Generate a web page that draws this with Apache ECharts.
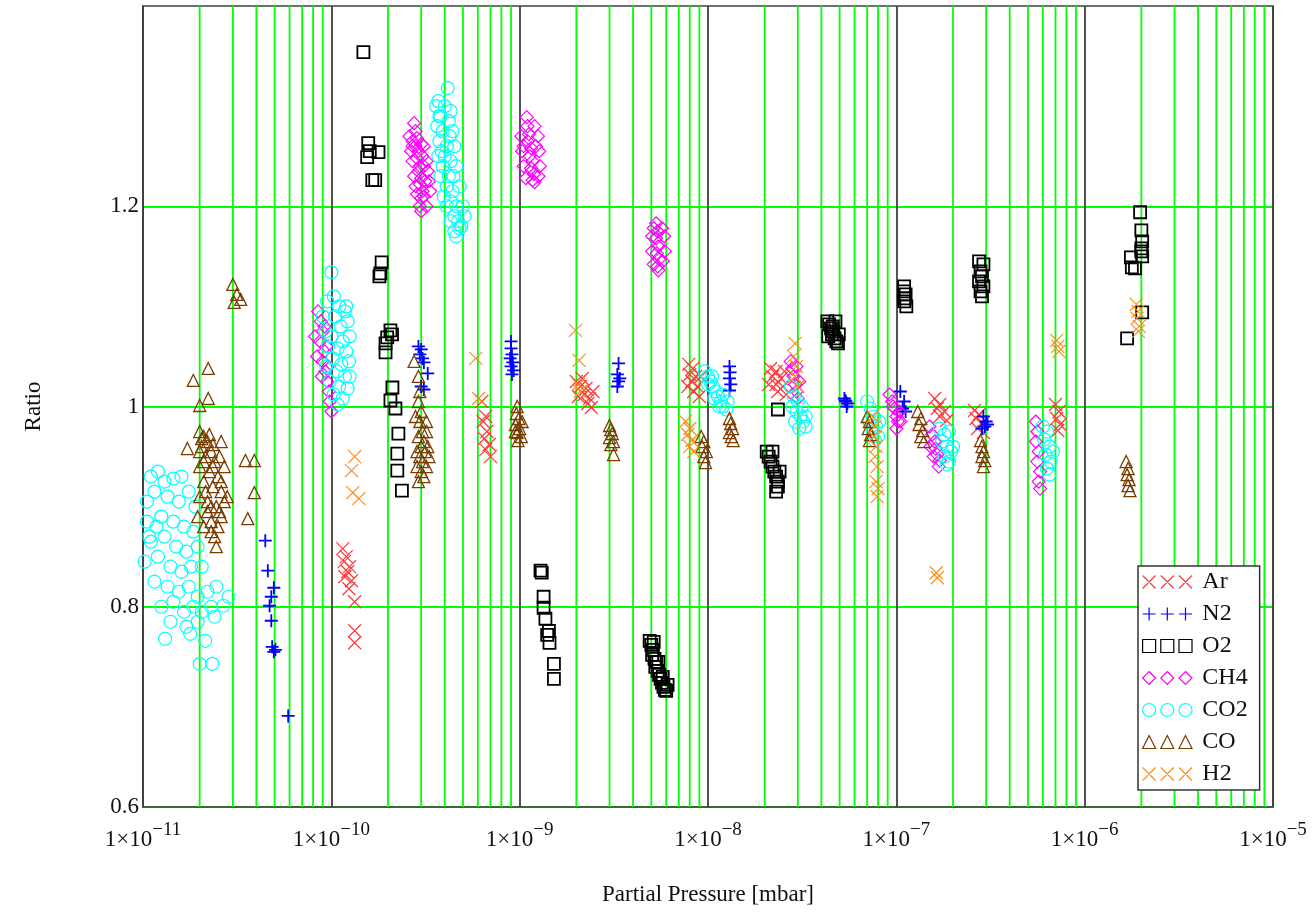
<!DOCTYPE html>
<html>
<head>
<meta charset="utf-8">
<script src="https://cdn.jsdelivr.net/npm/echarts@6/dist/echarts.min.js"></script>
<style>
  html, body { margin: 0; padding: 0; background: #fff; }
  #chart { width: 1316px; height: 914px; }
</style>
</head>
<body>
<div id="chart"></div>
<script>
// === Données : [pression partielle (mbar), ratio] ===
const ar = [
  [1.15e-10, 0.858], [1.2e-10, 0.85], [1.17e-10, 0.845], [1.25e-10, 0.84], [1.22e-10, 0.835], [1.18e-10, 0.83],
  [1.28e-10, 0.826], [1.24e-10, 0.818], [1.33e-10, 0.805], [1.33e-10, 0.776], [1.33e-10, 0.764],
  [6.3e-10, 1.005], [6.6e-10, 0.99], [6.4e-10, 0.985], [6.7e-10, 0.975], [6.5e-10, 0.968], [6.9e-10, 0.962],
  [6.6e-10, 0.957], [7.0e-10, 0.95],
  [2.0e-9, 1.025], [2.15e-9, 1.028], [2.1e-9, 1.02], [2.25e-9, 1.018], [2.2e-9, 1.012], [2.35e-9, 1.008],
  [2.3e-9, 1.003], [2.4e-9, 0.999], [2.45e-9, 1.015], [2.05e-9, 1.01],
  [7.9e-9, 1.042], [8.3e-9, 1.038], [8.0e-9, 1.032], [8.6e-9, 1.03], [8.2e-9, 1.025], [8.8e-9, 1.02],
  [8.4e-9, 1.015], [9.0e-9, 1.01], [9.2e-9, 1.03], [7.8e-9, 1.02],
  [2.15e-8, 1.038], [2.3e-8, 1.035], [2.2e-8, 1.03], [2.45e-8, 1.028], [2.3e-8, 1.022], [2.5e-8, 1.02],
  [2.35e-8, 1.015], [2.6e-8, 1.012], [2.1e-8, 1.022], [2.55e-8, 1.035],
  [1.6e-7, 1.008], [1.7e-7, 1.002], [1.65e-7, 0.998], [1.8e-7, 0.995], [1.7e-7, 0.99], [1.85e-7, 0.986],
  [2.6e-7, 0.996], [2.75e-7, 0.992], [2.65e-7, 0.988], [2.85e-7, 0.984], [2.7e-7, 0.978], [2.9e-7, 0.974],
  [7.0e-7, 1.002], [7.3e-7, 0.995], [7.1e-7, 0.988], [7.4e-7, 0.982], [7.2e-7, 0.976]
];

const n2 = [
  [4.46e-11, 0.866], [4.6e-11, 0.836], [4.95e-11, 0.819], [4.8e-11, 0.81], [4.7e-11, 0.801], [4.8e-11, 0.786],
  [4.85e-11, 0.76], [4.95e-11, 0.755], [5.05e-11, 0.757], [5.9e-11, 0.691],
  [2.9e-10, 1.06], [3.0e-10, 1.057], [2.95e-10, 1.052], [3.05e-10, 1.048], [3.1e-10, 1.044], [3.25e-10, 1.033],
  [3.0e-10, 1.02], [3.1e-10, 1.017],
  [9.0e-10, 1.065], [9.0e-10, 1.058], [9.1e-10, 1.052], [8.9e-10, 1.048], [9.2e-10, 1.044], [9.0e-10, 1.04],
  [9.3e-10, 1.036], [9.1e-10, 1.032],
  [3.35e-9, 1.043], [3.3e-9, 1.032], [3.4e-9, 1.028], [3.35e-9, 1.025], [3.3e-9, 1.02],
  [1.3e-8, 1.04], [1.31e-8, 1.034], [1.3e-8, 1.028], [1.32e-8, 1.022], [1.3e-8, 1.016],
  [5.3e-8, 1.008], [5.4e-8, 1.005], [5.5e-8, 1.003], [5.45e-8, 1.0], [5.35e-8, 1.006],
  [1.05e-7, 1.015], [1.1e-7, 1.005], [1.08e-7, 0.998], [1.12e-7, 0.995],
  [2.9e-7, 0.99], [3.0e-7, 0.985], [2.95e-7, 0.98], [3.05e-7, 0.982], [2.85e-7, 0.978]
];

const o2 = [
  [1.48e-10, 1.354], [1.57e-10, 1.263], [1.55e-10, 1.249], [1.6e-10, 1.255], [1.78e-10, 1.254], [1.65e-10, 1.226],
  [1.71e-10, 1.226], [1.85e-10, 1.144], [1.82e-10, 1.133], [1.8e-10, 1.13],
  [2.06e-10, 1.076], [2.1e-10, 1.072], [1.98e-10, 1.069], [1.94e-10, 1.063], [1.94e-10, 1.054], [2.11e-10, 1.019],
  [2.06e-10, 1.006], [2.19e-10, 0.998], [2.27e-10, 0.973], [2.24e-10, 0.953], [2.24e-10, 0.936], [2.37e-10, 0.916],
  [1.29e-9, 0.836], [1.31e-9, 0.834], [1.34e-9, 0.81], [1.34e-9, 0.799], [1.37e-9, 0.788], [1.43e-9, 0.776],
  [1.44e-9, 0.764], [1.4e-9, 0.772], [1.52e-9, 0.743], [1.52e-9, 0.728],
  [4.9e-9, 0.766], [5.0e-9, 0.762], [5.1e-9, 0.757], [5.05e-9, 0.752], [5.2e-9, 0.748], [5.3e-9, 0.745],
  [5.25e-9, 0.74], [5.4e-9, 0.736], [5.5e-9, 0.732], [5.6e-9, 0.728], [5.7e-9, 0.724], [5.8e-9, 0.72],
  [5.9e-9, 0.717], [6.0e-9, 0.716], [5.15e-9, 0.765], [5.45e-9, 0.745], [5.75e-9, 0.73], [6.1e-9, 0.722],
  [2.05e-8, 0.955], [2.1e-8, 0.95], [2.15e-8, 0.945], [2.2e-8, 0.94], [2.25e-8, 0.935], [2.3e-8, 0.93],
  [2.35e-8, 0.925], [2.35e-8, 0.92], [2.3e-8, 0.915], [2.35e-8, 0.997], [2.2e-8, 0.955], [2.4e-8, 0.935],
  [4.3e-8, 1.085], [4.4e-8, 1.082], [4.5e-8, 1.078], [4.6e-8, 1.08], [4.55e-8, 1.072], [4.7e-8, 1.068],
  [4.8e-8, 1.065], [4.9e-8, 1.063], [4.6e-8, 1.075], [4.75e-8, 1.085], [4.95e-8, 1.072], [4.35e-8, 1.07],
  [1.1e-7, 1.12], [1.12e-7, 1.112], [1.1e-7, 1.105], [1.13e-7, 1.1], [1.1e-7, 1.115], [1.11e-7, 1.108],
  [2.75e-7, 1.145], [2.9e-7, 1.142], [2.8e-7, 1.135], [2.85e-7, 1.13], [2.75e-7, 1.125], [2.9e-7, 1.12],
  [2.8e-7, 1.115], [2.85e-7, 1.11],
  [1.97e-6, 1.194], [2.0e-6, 1.176], [2.02e-6, 1.165], [2.0e-6, 1.158], [2.02e-6, 1.15], [1.76e-6, 1.149],
  [1.78e-6, 1.139], [1.85e-6, 1.138], [2.0e-6, 1.155], [2.02e-6, 1.094], [1.68e-6, 1.068]
];

const ch4 = [
  [8.5e-11, 1.095], [8.8e-11, 1.085], [9.0e-11, 1.075], [8.7e-11, 1.065], [9.2e-11, 1.08], [9.2e-11, 1.055],
  [9.0e-11, 1.045], [9.4e-11, 1.06], [9.6e-11, 1.04], [9.3e-11, 1.035], [9.5e-11, 1.025], [9.7e-11, 1.015],
  [9.8e-11, 1.005], [1.0e-10, 0.995], [8.2e-11, 1.07], [8.4e-11, 1.05], [8.9e-11, 1.03],
  [2.75e-10, 1.283], [2.8e-10, 1.275], [2.85e-10, 1.268], [2.8e-10, 1.26], [2.9e-10, 1.255], [2.85e-10, 1.248],
  [2.95e-10, 1.24], [2.9e-10, 1.235], [3.0e-10, 1.228], [2.95e-10, 1.222], [3.05e-10, 1.215], [3.0e-10, 1.208],
  [2.95e-10, 1.2], [3.0e-10, 1.195], [3.05e-10, 1.25],
  [2.6e-10, 1.27], [2.7e-10, 1.265], [3.1e-10, 1.26], [2.65e-10, 1.255], [3.2e-10, 1.245], [2.7e-10, 1.245],
  [3.25e-10, 1.235], [2.75e-10, 1.23], [3.3e-10, 1.225], [2.8e-10, 1.22], [3.35e-10, 1.215], [3.1e-10, 1.21],
  [2.85e-10, 1.212], [3.2e-10, 1.2], [3.15e-10, 1.225], [3.1e-10, 1.24], [2.7e-10, 1.26], [3.0e-10, 1.262],
  [1.09e-9, 1.289], [1.1e-9, 1.28], [1.12e-9, 1.272], [1.1e-9, 1.265], [1.15e-9, 1.258], [1.13e-9, 1.25],
  [1.17e-9, 1.245], [1.15e-9, 1.238], [1.19e-9, 1.232], [1.17e-9, 1.226], [1.2e-9, 1.224],
  [1.02e-9, 1.27], [1.25e-9, 1.27], [1.03e-9, 1.255], [1.27e-9, 1.255], [1.05e-9, 1.24], [1.28e-9, 1.24],
  [1.08e-9, 1.228], [1.26e-9, 1.23], [1.22e-9, 1.26], [1.05e-9, 1.26], [1.2e-9, 1.28],
  [5.3e-9, 1.183], [5.4e-9, 1.175], [5.3e-9, 1.168], [5.45e-9, 1.16], [5.35e-9, 1.153], [5.5e-9, 1.147],
  [5.4e-9, 1.14], [5.45e-9, 1.136], [5.05e-9, 1.17], [5.85e-9, 1.17], [5.05e-9, 1.155], [5.9e-9, 1.155],
  [5.15e-9, 1.142], [5.75e-9, 1.145], [5.7e-9, 1.178], [5.15e-9, 1.178],
  [2.75e-8, 1.045], [2.8e-8, 1.038], [2.85e-8, 1.03], [2.9e-8, 1.022], [2.95e-8, 1.015], [3.0e-8, 1.008],
  [2.95e-8, 1.04], [3.05e-8, 1.025],
  [9.2e-8, 1.012], [9.5e-8, 1.005], [9.8e-8, 0.998], [1.0e-7, 0.99], [1.02e-7, 0.985], [1.0e-7, 0.978],
  [9.6e-8, 1.0], [1.04e-7, 0.995], [1.05e-7, 0.985],
  [1.5e-7, 0.98], [1.55e-7, 0.972], [1.6e-7, 0.965], [1.62e-7, 0.958], [1.65e-7, 0.952], [1.7e-7, 0.946],
  [1.68e-7, 0.94], [1.52e-7, 0.96], [1.58e-7, 0.95],
  [5.5e-7, 0.985], [5.6e-7, 0.975], [5.5e-7, 0.965], [5.7e-7, 0.955], [5.6e-7, 0.945], [5.8e-7, 0.935],
  [5.7e-7, 0.925], [5.8e-7, 0.918]
];

const co2 = [
  [1.05e-11, 0.905], [1.1e-11, 0.93], [1.2e-11, 0.935], [1.3e-11, 0.925], [1.45e-11, 0.928], [1.6e-11, 0.93],
  [1.15e-11, 0.915], [1.35e-11, 0.91], [1.55e-11, 0.905], [1.75e-11, 0.915], [1.9e-11, 0.9], [1.05e-11, 0.885],
  [1.25e-11, 0.89], [1.45e-11, 0.885], [1.65e-11, 0.88], [1.85e-11, 0.875], [1.1e-11, 0.865], [1.3e-11, 0.87],
  [1.5e-11, 0.86], [1.7e-11, 0.855], [1.95e-11, 0.86], [1.02e-11, 0.845], [1.2e-11, 0.85], [1.4e-11, 0.84],
  [1.6e-11, 0.835], [1.8e-11, 0.84], [2.05e-11, 0.84], [1.15e-11, 0.825], [1.35e-11, 0.82], [1.55e-11, 0.815],
  [1.75e-11, 0.82], [1.95e-11, 0.81], [2.2e-11, 0.815], [2.45e-11, 0.82], [1.25e-11, 0.8], [1.45e-11, 0.805],
  [1.65e-11, 0.795], [1.85e-11, 0.8], [2.05e-11, 0.795], [2.3e-11, 0.8], [2.67e-11, 0.801], [2.85e-11, 0.81],
  [1.4e-11, 0.785], [1.7e-11, 0.78], [1.95e-11, 0.785], [2.4e-11, 0.79], [1.31e-11, 0.768], [1.78e-11, 0.773],
  [2.14e-11, 0.766], [2.0e-11, 0.743], [2.33e-11, 0.743], [1.08e-11, 0.87], [1.18e-11, 0.88],
  [1.0e-10, 1.134], [1.03e-10, 1.11], [9.5e-11, 1.105], [1.1e-10, 1.1], [1.18e-10, 1.095], [9.0e-11, 1.09],
  [1.05e-10, 1.09], [1.22e-10, 1.085], [1.12e-10, 1.08], [9.3e-11, 1.075], [1.0e-10, 1.07], [1.25e-10, 1.07],
  [1.15e-10, 1.065], [9.6e-11, 1.06], [1.08e-10, 1.058], [1.2e-10, 1.055], [1.02e-10, 1.048], [1.24e-10, 1.045],
  [1.13e-10, 1.042], [9.4e-11, 1.04], [1.07e-10, 1.035], [1.18e-10, 1.03], [9.8e-11, 1.025], [1.1e-10, 1.02],
  [1.22e-10, 1.018], [1.03e-10, 1.012], [1.15e-10, 1.008], [1.08e-10, 1.002], [1.2e-10, 1.1], [1.25e-10, 1.03],
  [4.15e-10, 1.318], [3.7e-10, 1.305], [4.0e-10, 1.3], [3.8e-10, 1.29], [4.2e-10, 1.285], [3.9e-10, 1.275],
  [3.75e-10, 1.265], [4.1e-10, 1.26], [4.0e-10, 1.25], [4.3e-10, 1.245], [3.9e-10, 1.24], [4.2e-10, 1.23],
  [4.1e-10, 1.22], [4.4e-10, 1.215], [4.3e-10, 1.205], [4.6e-10, 1.2], [4.5e-10, 1.19], [4.7e-10, 1.185],
  [4.8e-10, 1.178], [4.6e-10, 1.17], [3.85e-10, 1.255], [4.25e-10, 1.27],
  [3.6e-10, 1.3], [4.3e-10, 1.295], [3.65e-10, 1.28], [4.4e-10, 1.275], [3.7e-10, 1.25], [4.5e-10, 1.26],
  [3.8e-10, 1.23], [4.6e-10, 1.24], [3.95e-10, 1.21], [4.8e-10, 1.22], [4.1e-10, 1.2], [5.0e-10, 1.2],
  [4.3e-10, 1.185], [5.1e-10, 1.19], [4.5e-10, 1.175], [4.9e-10, 1.18], [3.75e-10, 1.29], [4.45e-10, 1.23],
  [9.6e-9, 1.035], [1.0e-8, 1.03], [1.03e-8, 1.025], [1.06e-8, 1.02], [1.1e-8, 1.015], [1.13e-8, 1.01],
  [1.17e-8, 1.005], [1.2e-8, 1.0], [1.25e-8, 0.997], [1.0e-8, 1.022], [1.08e-8, 1.008], [1.15e-8, 1.0],
  [1.05e-8, 1.03], [1.2e-8, 1.012], [1.27e-8, 1.005],
  [2.75e-8, 1.02], [2.85e-8, 1.01], [2.8e-8, 1.0], [2.95e-8, 0.995], [3.0e-8, 1.005], [3.1e-8, 0.99],
  [3.2e-8, 0.985], [3.3e-8, 0.98], [2.9e-8, 0.985], [3.15e-8, 1.0], [3.3e-8, 0.99], [3.05e-8, 0.978],
  [7.0e-8, 1.005], [7.3e-8, 0.998], [7.6e-8, 0.99], [7.2e-8, 0.985], [7.8e-8, 0.98], [7.5e-8, 0.975],
  [8.0e-8, 0.97], [7.7e-8, 0.966], [8.1e-8, 0.985],
  [1.7e-7, 0.978], [1.8e-7, 0.972], [1.9e-7, 0.975], [1.75e-7, 0.965], [1.85e-7, 0.96], [1.95e-7, 0.955],
  [1.8e-7, 0.95], [1.9e-7, 0.945], [2.0e-7, 0.96], [1.85e-7, 0.942],
  [6.0e-7, 0.98], [6.3e-7, 0.975], [6.1e-7, 0.967], [6.5e-7, 0.96], [6.2e-7, 0.952], [6.6e-7, 0.945],
  [6.3e-7, 0.938], [6.5e-7, 0.932], [6.8e-7, 0.955]
];

const co = [
  [1.85e-11, 1.026], [2.22e-11, 1.038], [2.0e-11, 1.001], [2.22e-11, 1.008], [1.72e-11, 0.958],
  [3.0e-11, 1.122], [3.15e-11, 1.112], [3.3e-11, 1.107], [3.05e-11, 1.104],
  [2.0e-11, 0.975], [2.1e-11, 0.97], [2.2e-11, 0.965], [2.05e-11, 0.96], [2.3e-11, 0.955], [2.15e-11, 0.95],
  [2.4e-11, 0.945], [2.0e-11, 0.94], [2.25e-11, 0.935], [2.5e-11, 0.93], [2.1e-11, 0.925], [2.35e-11, 0.92],
  [2.6e-11, 0.915], [2.0e-11, 0.91], [2.2e-11, 0.905], [2.45e-11, 0.9], [2.7e-11, 0.905], [1.95e-11, 0.89],
  [2.3e-11, 0.885], [2.5e-11, 0.88], [2.4e-11, 0.87], [2.45e-11, 0.86], [2.2e-11, 0.895],
  [2.05e-11, 0.968], [2.25e-11, 0.972], [2.35e-11, 0.962], [2.55e-11, 0.95], [2.7e-11, 0.94], [2.6e-11, 0.925],
  [2.8e-11, 0.91], [2.1e-11, 0.945], [2.15e-11, 0.915], [2.3e-11, 0.9], [2.55e-11, 0.895], [2.0e-11, 0.955],
  [2.35e-11, 0.94], [2.6e-11, 0.965], [2.1e-11, 0.88], [2.3e-11, 0.875], [2.6e-11, 0.89],
  [3.5e-11, 0.946], [3.9e-11, 0.946], [3.9e-11, 0.914], [3.6e-11, 0.888],
  [2.75e-10, 1.045], [2.9e-10, 1.03], [2.95e-10, 1.015], [2.9e-10, 1.005], [3.0e-10, 0.995], [2.95e-10, 0.985],
  [3.05e-10, 0.975], [2.9e-10, 0.97], [3.1e-10, 0.965], [3.0e-10, 0.96], [3.15e-10, 0.955], [2.95e-10, 0.95],
  [3.05e-10, 0.945], [3.2e-10, 0.94], [3.1e-10, 0.93], [2.9e-10, 0.925],
  [2.8e-10, 0.99], [3.2e-10, 0.985], [3.25e-10, 0.96], [2.85e-10, 0.955], [3.3e-10, 0.95], [2.85e-10, 0.94],
  [3.2e-10, 0.975], [3.0e-10, 0.935],
  [9.7e-10, 1.0], [9.6e-10, 0.993], [9.9e-10, 0.988], [9.5e-10, 0.982], [1.0e-9, 0.978], [9.7e-10, 0.974],
  [1.02e-9, 0.97], [9.8e-10, 0.966], [9.5e-10, 0.975], [1.03e-9, 0.985],
  [3.0e-9, 0.981], [3.05e-9, 0.977], [3.1e-9, 0.973], [3.0e-9, 0.969], [3.15e-9, 0.965], [3.05e-9, 0.962],
  [3.15e-9, 0.952],
  [9.2e-9, 0.97], [9.5e-9, 0.965], [9.3e-9, 0.96], [9.8e-9, 0.955], [9.5e-9, 0.95], [9.7e-9, 0.944],
  [1.3e-8, 0.988], [1.32e-8, 0.983], [1.35e-8, 0.978], [1.3e-8, 0.974], [1.33e-8, 0.97], [1.36e-8, 0.966],
  [7.0e-8, 0.99], [7.2e-8, 0.985], [7.1e-8, 0.978], [7.3e-8, 0.972], [7.2e-8, 0.966],
  [1.3e-7, 0.995], [1.35e-7, 0.988], [1.32e-7, 0.982], [1.38e-7, 0.976], [1.35e-7, 0.97], [1.4e-7, 0.965],
  [2.8e-7, 0.966], [2.85e-7, 0.96], [2.9e-7, 0.955], [2.85e-7, 0.95], [2.95e-7, 0.946], [2.9e-7, 0.94],
  [1.66e-6, 0.945], [1.7e-6, 0.938], [1.68e-6, 0.932], [1.72e-6, 0.927], [1.7e-6, 0.921], [1.74e-6, 0.916]
];

const h2 = [
  [1.33e-10, 0.95], [1.28e-10, 0.936], [1.3e-10, 0.914], [1.4e-10, 0.908],
  [5.85e-10, 1.048], [6.05e-10, 1.008],
  [1.98e-9, 1.076], [2.07e-9, 1.046], [2.05e-9, 1.022], [2.1e-9, 1.015],
  [7.6e-9, 0.985], [8.0e-9, 0.978], [7.8e-9, 0.972], [8.2e-9, 0.966], [8.0e-9, 0.96], [8.4e-9, 0.955],
  [2.9e-8, 1.063], [2.85e-8, 1.05], [2.95e-8, 1.04], [2.9e-8, 1.03], [3.0e-8, 1.02],
  [7.5e-8, 0.99], [7.7e-8, 0.98], [7.6e-8, 0.97], [7.8e-8, 0.96], [7.7e-8, 0.95], [7.9e-8, 0.94],
  [7.8e-8, 0.925], [8.0e-8, 0.918], [7.9e-8, 0.91],
  [1.63e-7, 0.834], [1.65e-7, 0.829],
  [7.1e-7, 1.066], [7.2e-7, 1.06], [7.3e-7, 1.055],
  [1.88e-6, 1.102], [1.92e-6, 1.095], [1.9e-6, 1.088], [1.95e-6, 1.08], [1.93e-6, 1.075]
];

// lignes de grille secondaires : 2..9 dans chaque décade
const decades = [-11, -10, -9, -8, -7, -6];
const minorSteps = [2, 3, 4, 5, 6, 7, 8, 9];
const minorLines = decades.flatMap(d => minorSteps.map(m => m * Math.pow(10, d)));

const Y_MIN = 0.6, Y_MAX = 1.4;
const FONT = "Liberation Serif";

// symboles (un pour les points, trois pour la légende)
const SYM = {
  cross: "path://M0,0L10,10M10,0L0,10",
  plus: "path://M5,0L5,10M0,5L10,5"
};
const ICON = {
  cross: "path://M0,0L10,10M10,0L0,10M14,0L24,10M24,0L14,10M28,0L38,10M38,0L28,10",
  plus: "path://M5,0L5,10M0,5L10,5M19,0L19,10M14,5L24,5M33,0L33,10M28,5L38,5",
  square: "path://M0,0L10,0L10,10L0,10ZM14,0L24,0L24,10L14,10ZM28,0L38,0L38,10L28,10Z",
  diamond: "path://M5,0L10,5L5,10L0,5ZM19,0L24,5L19,10L14,5ZM33,0L38,5L33,10L28,5Z",
  circle: "path://M0,5A5,5,0,1,1,10,5A5,5,0,1,1,0,5ZM14,5A5,5,0,1,1,24,5A5,5,0,1,1,14,5ZM28,5A5,5,0,1,1,38,5A5,5,0,1,1,28,5Z",
  triangle: "path://M5,0L10,10L0,10ZM19,0L24,10L14,10ZM33,0L38,10L28,10Z"
};

const gases = [
  { name: "Ar",  data: ar,  symbol: SYM.cross, icon: ICON.cross,    color: "#ff3b3b", width: 1.2, size: 13 },
  { name: "N2",  data: n2,  symbol: SYM.plus,  icon: ICON.plus,     color: "#0000ff", width: 1.8, size: 13 },
  { name: "O2",  data: o2,  symbol: "rect",    icon: ICON.square,   color: "#000000", width: 1.8, size: 12 },
  { name: "CH4", data: ch4, symbol: "diamond", icon: ICON.diamond,  color: "#ff00ff", width: 1.2, size: 13 },
  { name: "CO2", data: co2, symbol: "circle",  icon: ICON.circle,   color: "#00ffff", width: 1.2, size: 13 },
  { name: "CO",  data: co,  symbol: "triangle",icon: ICON.triangle, color: "#7a3d00", width: 1.3, size: 12 },
  { name: "H2",  data: h2,  symbol: SYM.cross, icon: ICON.cross,    color: "#ff8c1a", width: 1.2, size: 13 }
];

const chart = echarts.init(document.getElementById("chart"));

// grille verte 2..9 : série custom qui passe par l'échelle log de l'axe
const minorGridSeries = {
  name: "minorGrid",
  type: "custom",
  z: 1,
  silent: true,
  animation: false,
  clip: true,
  data: minorLines.map(v => [v, Y_MIN]),
  encode: { x: 0, y: 1 },
  renderItem: (params, api) => {
    const x = api.value(0);
    const p1 = api.coord([x, Y_MIN]);
    const p2 = api.coord([x, Y_MAX]);
    return {
      type: "line",
      shape: { x1: p1[0], y1: p1[1], x2: p2[0], y2: p2[1] },
      style: { stroke: "#00ff00", lineWidth: 1.8 },
      silent: true
    };
  }
};

const option = {
  backgroundColor: "#ffffff",
  animation: false,
  textStyle: { fontFamily: FONT },
  grid: {
    left: 143, right: 43, top: 6, bottom: 107,
    show: true, borderColor: "#404040", borderWidth: 1.5, backgroundColor: "transparent"
  },
  legend: {
    orient: "vertical",
    left: 1138, top: 566,
    padding: [4, 12, 4, 4],
    itemWidth: 50, itemHeight: 13, itemGap: 8,
    backgroundColor: "#ffffff",
    borderColor: "#333333", borderWidth: 1.5, borderRadius: 0,
    selectedMode: false,
    textStyle: { fontFamily: FONT, fontSize: 24, color: "#111", padding: [0, 0, 0, 5] },
    data: gases.map(g => ({ name: g.name, icon: g.icon, itemStyle: { borderWidth: 1.2 } }))
  },
  xAxis: {
    type: "log",
    logBase: 10,
    min: 1e-11,
    max: 1e-5,
    name: "Partial Pressure [mbar]",
    nameLocation: "middle",
    nameGap: 76,
    nameTextStyle: { fontFamily: FONT, fontSize: 23, color: "#111" },
    axisLine: { show: true, lineStyle: { color: "#404040", width: 1.5 } },
    axisTick: { show: false },
    splitLine: { show: true, lineStyle: { color: "#404040", width: 1.8 } },
    axisLabel: {
      margin: 14,
      formatter: v => "{a|1×10}{b|−" + Math.abs(Math.round(Math.log10(v))) + "}",
      rich: {
        a: { fontFamily: FONT, fontSize: 23, color: "#111" },
        b: { fontFamily: FONT, fontSize: 19, color: "#111", padding: [0, 0, 18, 0] }
      }
    }
  },
  yAxis: {
    type: "value",
    min: Y_MIN,
    max: Y_MAX,
    interval: 0.2,
    name: "Ratio",
    nameLocation: "middle",
    nameGap: 98,
    nameTextStyle: { fontFamily: FONT, fontSize: 23, color: "#111" },
    axisLine: { show: true, lineStyle: { color: "#404040", width: 1.5 } },
    axisTick: { show: false },
    splitLine: { show: true, showMaxLine: false, lineStyle: { color: "#00ff00", width: 1.8 } },
    axisLabel: {
      margin: 4,
      fontFamily: FONT, fontSize: 23, color: "#111",
      formatter: v => (v > 1.35 ? "" : String(Math.round(v * 10) / 10))
    }
  },
  series: [
    minorGridSeries,
    ...gases.map(g => ({
      name: g.name,
      type: "scatter",
      data: g.data,
      symbol: g.symbol,
      symbolSize: g.size,
      z: 2,
      silent: true,
      emphasis: { disabled: true },
      itemStyle: { color: "rgba(0,0,0,0)", borderColor: g.color, borderWidth: g.width, opacity: 1 }
    }))
  ]
};

chart.setOption(option);

window.addEventListener("resize", () => chart.resize());
</script>
</body>
</html>
